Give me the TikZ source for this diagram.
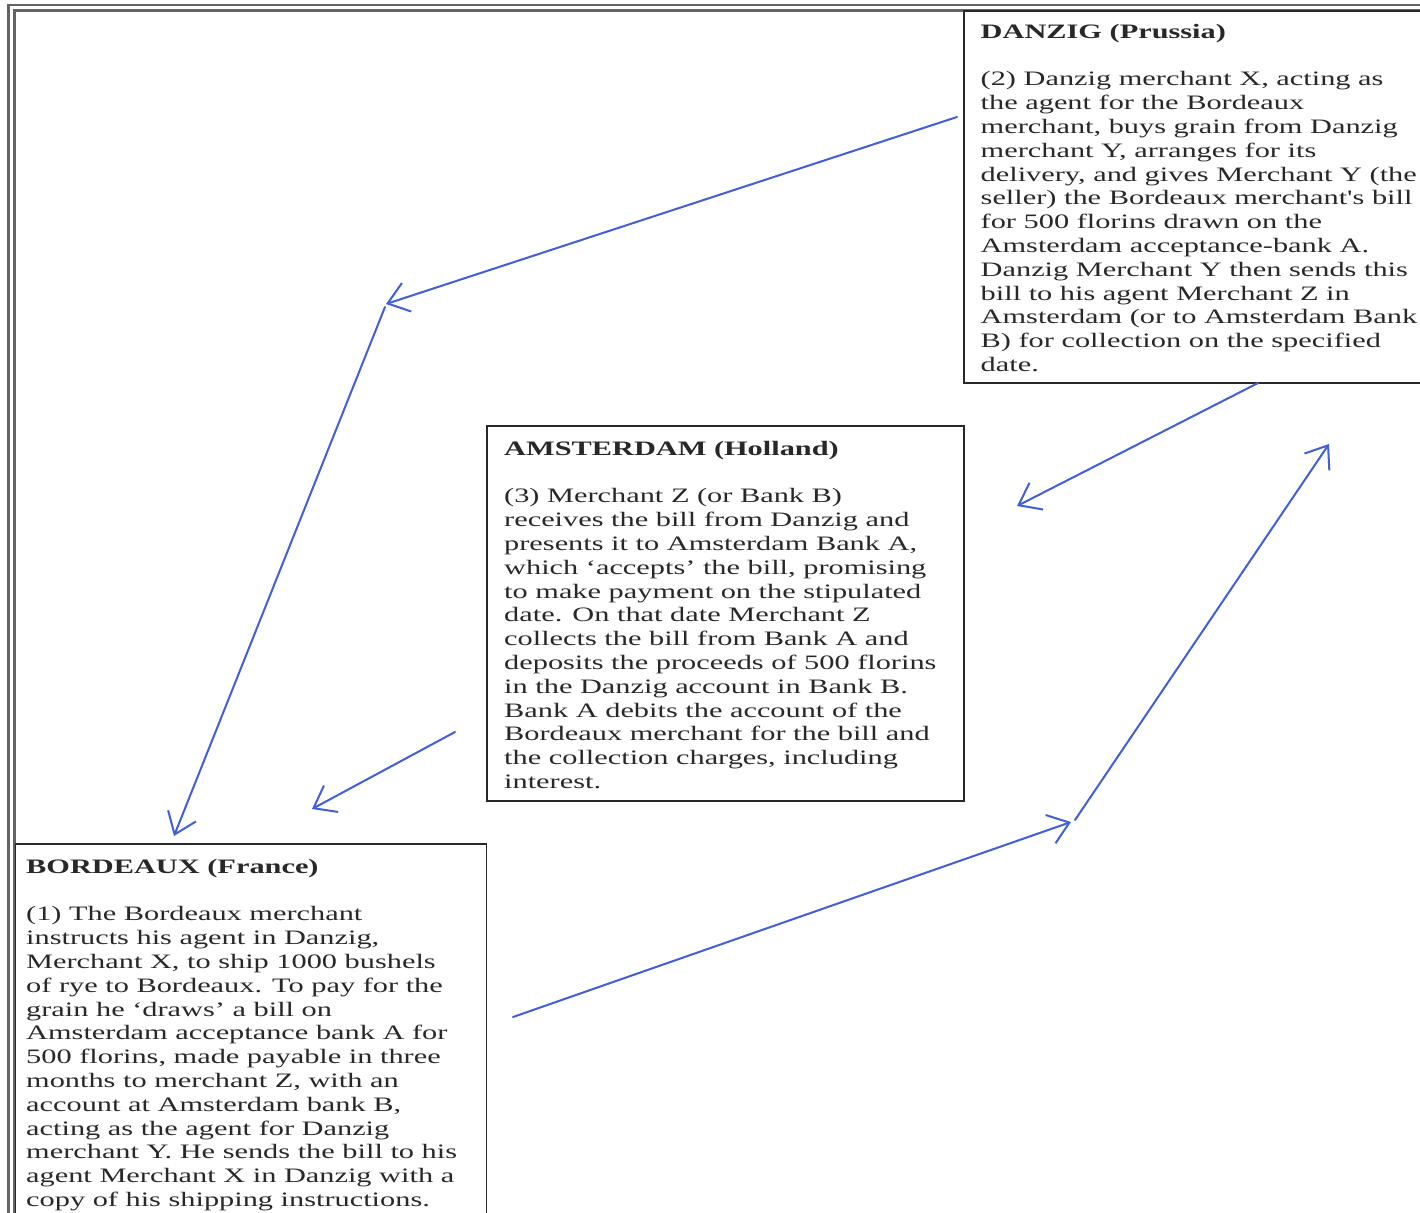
\documentclass[tikz,border=0pt]{standalone}
\usepackage{fontspec}
\setmainfont{Liberation Serif}[FakeStretch=1.48, Ligatures=TeXOff]
\usetikzlibrary{arrows.meta}
\definecolor{pencol}{RGB}{65,95,215}
\definecolor{framecol}{RGB}{100,100,100}
\definecolor{ink}{RGB}{40,40,40}
\begin{document}
\begin{tikzpicture}[x=1pt,y=-1pt,
  txt/.style={anchor=north west, inner sep=0pt, align=left, text=ink, font=\fontsize{20.5}{23.8}\selectfont},
  boxline/.style={draw=ink, line width=1.8pt, anchor=north west, inner sep=0pt},
  frameline/.style={draw=framecol, line width=2.4pt},
  penarrow/.style={draw=pencol, line width=2pt, line cap=round, line join=round,
    -{Straight Barb[length=20pt,width=30pt,line width=2pt]}}
]
\useasboundingbox (0,0) rectangle (1420,1212);
\clip (0,0) rectangle (1420,1212);
\fill[white] (0,0) rectangle (1420,1212);
% outer double frame
\draw[frameline] (8.5,1220) -- (8.5,5) -- (1430,5);
\draw[frameline] (14.5,1220) -- (14.5,10.5) -- (1430,10.5);
% boxes
\node[boxline, minimum width=480pt, minimum height=371.5pt] (danzig) at (963,10.5) {};
\node[boxline, minimum width=477pt, minimum height=375pt] (amsterdam) at (486,425) {};
\node[boxline, minimum width=471pt, minimum height=400pt] (bordeaux) at (14.5,843) {};
% texts
\node[txt] (danzigtxt) at (980.5,22) {\rule{0pt}{16pt}\textbf{DANZIG (Prussia)}\\[23.8pt]
(2) Danzig merchant X, acting as\\
the agent for the Bordeaux\\
merchant, buys grain from Danzig\\
merchant Y, arranges for its\\
delivery, and gives Merchant Y (the\\
seller) the Bordeaux merchant's bill\\
for 500 florins drawn on the\\
Amsterdam acceptance-bank A.\\
Danzig Merchant Y then sends this\\
bill to his agent Merchant Z in\\
Amsterdam (or to Amsterdam Bank\\
B) for collection on the specified\\
date.};
\node[txt] (amsterdamtxt) at (504,439) {\rule{0pt}{16pt}\textbf{AMSTERDAM (Holland)}\\[23.8pt]
(3) Merchant Z (or Bank B)\\
receives the bill from Danzig and\\
presents it to Amsterdam Bank A,\\
which ‘accepts’ the bill, promising\\
to make payment on the stipulated\\
date. On that date Merchant Z\\
collects the bill from Bank A and\\
deposits the proceeds of 500 florins\\
in the Danzig account in Bank B.\\
Bank A debits the account of the\\
Bordeaux merchant for the bill and\\
the collection charges, including\\
interest.};
\node[txt] (bordeauxtxt) at (26,857) {\rule{0pt}{16pt}\textbf{BORDEAUX (France)}\\[23.8pt]
(1) The Bordeaux merchant\\
instructs his agent in Danzig,\\
Merchant X, to ship 1000 bushels\\
of rye to Bordeaux. To pay for the\\
grain he ‘draws’ a bill on\\
Amsterdam acceptance bank A for\\
500 florins, made payable in three\\
months to merchant Z, with an\\
account at Amsterdam bank B,\\
acting as the agent for Danzig\\
merchant Y. He sends the bill to his\\
agent Merchant X in Danzig with a\\
copy of his shipping instructions.};
% connector end points
\coordinate (a1s) at (957,117);
\coordinate (a1e) at (386,304);
\coordinate (a2s) at (385,307);
\coordinate (a2e) at (174,836);
\coordinate (a3s) at (455,732);
\coordinate (a3e) at (312,809);
\coordinate (a4s) at (1258,383);
\coordinate (a4e) at (1017,506);
\coordinate (a5s) at (513,1017);
\coordinate (a5e) at (1071,822);
\coordinate (a6s) at (1075,820);
\coordinate (a6e) at (1329,444);
% hand-drawn arrows
\draw[penarrow] (a1s) -- (a1e);
\draw[penarrow] (a2s) -- (a2e);
\draw[penarrow] (a3s) -- (a3e);
\draw[penarrow] (a4s) -- (a4e);
\draw[penarrow] (a5s) -- (a5e);
\draw[penarrow] (a6s) -- (a6e);
\end{tikzpicture}
\end{document}
